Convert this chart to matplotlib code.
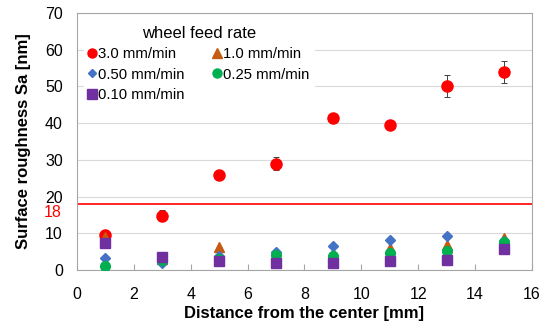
import matplotlib
matplotlib.use("Agg")
import matplotlib.pyplot as plt
from matplotlib.lines import Line2D

plt.rcParams['font.family'] = ['Liberation Sans', 'DejaVu Sans']

distance = [1, 3, 5, 7, 9, 11, 13, 15]
sa_30 = [9.5, 14.8, 26.0, 29.0, 41.5, 39.5, 50.0, 54.0]
err_30 = [1.0, 1.5, 0.6, 1.8, 0.8, 0.6, 3.0, 3.0]
sa_10 = [9.0, 3.0, 6.2, 4.0, 4.5, 5.9, 6.8, 8.8]
sa_050 = [3.2, 2.0, 3.8, 4.8, 6.6, 8.2, 9.3, 8.0]
sa_025 = [1.2, 2.7, 3.0, 4.0, 3.8, 4.7, 5.2, 7.7]
sa_010 = [7.3, 3.6, 2.3, 2.0, 1.8, 2.5, 2.7, 5.6]
threshold = 18

fig = plt.figure(figsize=(5.49, 3.26), dpi=100)
ax = fig.add_axes([0.140, 0.172, 0.829, 0.788])

ax.errorbar(distance, sa_30, yerr=err_30, fmt='none', ecolor='#404040',
            elinewidth=0.7, capsize=2, capthick=0.7, zorder=3)
ax.plot(distance, sa_10, linestyle='none', marker='^', color='#C55A11', markersize=7, zorder=4)
ax.plot(distance, sa_050, linestyle='none', marker='D', color='#4472C4', markersize=5.5, zorder=4)
ax.plot(distance, sa_025, linestyle='none', marker='o', color='#00B050', markersize=7, zorder=4)
ax.plot(distance, sa_010, linestyle='none', marker='s', color='#7030A0', markersize=7, zorder=5)
ax.plot(distance, sa_30, linestyle='none', marker='o', color='#FF0000', markersize=8, zorder=3.5)

ax.axhline(threshold, color='#FF0000', linewidth=1.2, zorder=2)

ax.set_xlim(0, 16)
ax.set_ylim(0, 70)
ax.set_xticks(range(0, 17, 2))
ax.set_yticks(range(0, 71, 10))
ax.grid(axis='y', color='#D9D9D9', linewidth=0.8, zorder=0)
ax.set_axisbelow(True)
for s in ax.spines.values():
    s.set_color('#A6A6A6')
    s.set_linewidth(0.8)
ax.tick_params(axis='x', direction='in', length=4, color='#A6A6A6', labelsize=11.5, pad=12)
ax.tick_params(axis='y', length=0, labelsize=11.5, pad=10)

ax.text(-0.52, 15.7, '18', color='#FF0000', fontsize=11.5, ha='right', va='center',
        transform=ax.transData)

ax.set_xlabel('Distance from the center [mm]', fontsize=12, fontweight='bold', labelpad=3)
ax.set_ylabel('Surface roughness Sa [nm]', fontsize=12, fontweight='bold', labelpad=10)

handles = [
    Line2D([], [], linestyle='none', marker='o', color='#FF0000', markersize=6.5),
    Line2D([], [], linestyle='none', marker='D', color='#4472C4', markersize=4.5),
    Line2D([], [], linestyle='none', marker='s', color='#7030A0', markersize=6.5),
    Line2D([], [], linestyle='none', marker='^', color='#C55A11', markersize=6.5),
    Line2D([], [], linestyle='none', marker='o', color='#00B050', markersize=6.5),
]
labels = ['3.0 mm/min', '0.50 mm/min', '0.10 mm/min', '1.0 mm/min', '0.25 mm/min']
leg = ax.legend(handles, labels, title='wheel feed rate', ncol=2, loc='upper left',
                bbox_to_anchor=(0.0, 0.995), frameon=True, fontsize=10.7,
                title_fontsize=12, handlelength=0.5, handletextpad=0.15,
                columnspacing=1.9, labelspacing=0.42, borderpad=0.3)
leg.get_frame().set_edgecolor('white')
leg.get_frame().set_facecolor('white')
leg.get_frame().set_alpha(1)

fig.savefig('out.png', dpi=100)
